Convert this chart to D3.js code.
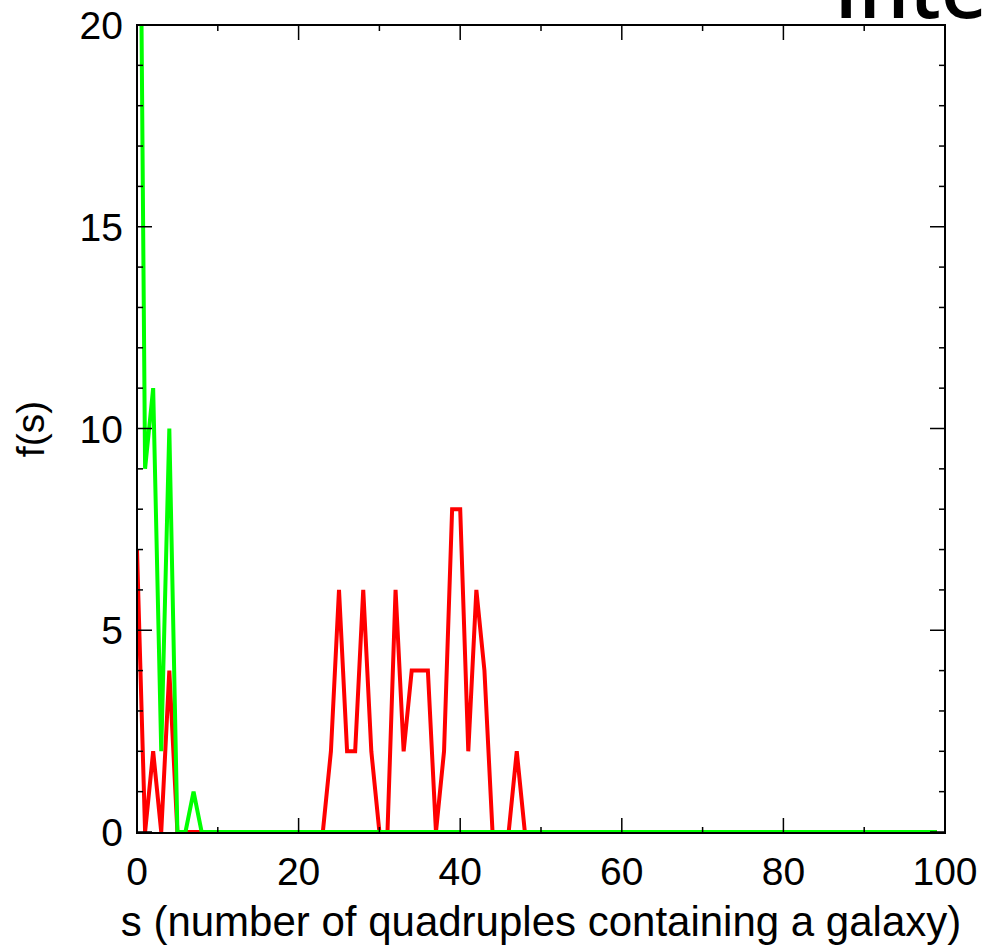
<!DOCTYPE html>
<html><head><meta charset="utf-8">
<script src="https://cdn.jsdelivr.net/npm/d3@7"></script>
<style>body{margin:0;background:#fff;} svg{display:block}</style>
</head><body><svg id="c" width="982" height="948"></svg>
<script>
// s = 0..99
const redValues = [
  7,0,2,0,4,0,0,0,0,0,
  0,0,0,0,0,0,0,0,0,0,
  0,0,0,0,2,6,2,2,6,2,
  0,0,6,2,4,4,4,0,2,8,
  8,2,6,4,0,0,0,2,0,0,
  0,0,0,0,0,0,0,0,0,0,
  0,0,0,0,0,0,0,0,0,0,
  0,0,0,0,0,0,0,0,0,0,
  0,0,0,0,0,0,0,0,0,0,
  0,0,0,0,0,0,0,0,0,0
];
const greenValues = [
  34,9,11,2,10,0,0,1,0,0,
  0,0,0,0,0,0,0,0,0,0,
  0,0,0,0,0,0,0,0,0,0,
  0,0,0,0,0,0,0,0,0,0,
  0,0,0,0,0,0,0,0,0,0,
  0,0,0,0,0,0,0,0,0,0,
  0,0,0,0,0,0,0,0,0,0,
  0,0,0,0,0,0,0,0,0,0,
  0,0,0,0,0,0,0,0,0,0,
  0,0,0,0,0,0,0,0,0,0
];
const xMajorTicks = [0,20,40,60,80,100];
const xMinorTicks = [10,30,50,70,90];
const yMajorTicks = [0,5,10,15,20];
const yMinorTicks = [1,2,3,4,6,7,8,9,11,12,13,14,16,17,18,19];
const xLabel = "s (number of quadruples containing a galaxy)";
const yLabel = "f(s)";
const titleFragment = "Inte";

const svg = d3.select("#c");
const L = 137, R = 945, T = 25, B = 833;
const x = d3.scaleLinear().domain([0,100]).range([L,R]);
const y = d3.scaleLinear().domain([0,20]).range([B-1,T]);

svg.append("defs").append("clipPath").attr("id","clip")
  .append("rect").attr("x",L).attr("y",T).attr("width",R-L).attr("height",B-T);

const line = d3.line().x((d,i)=>x(i)).y(d=>y(d));
const g = svg.append("g").attr("clip-path","url(#clip)");
g.append("path").datum(redValues).attr("d",line)
  .attr("fill","none").attr("stroke","#ff0000").attr("stroke-width",4);
g.append("path").datum(greenValues).attr("d",line)
  .attr("fill","none").attr("stroke","#00ff00").attr("stroke-width",4);

// frame
svg.append("rect").attr("x",L).attr("y",T).attr("width",R-L).attr("height",B-T)
  .attr("fill","none").attr("stroke","#000").attr("stroke-width",2);

const majLen = 15, minLen = 6;
const tk = svg.append("g").attr("stroke","#000").attr("stroke-width",1.5);
function xt(vals,len){
  vals.forEach(v=>{
    tk.append("line").attr("x1",x(v)).attr("x2",x(v)).attr("y1",B).attr("y2",B-len);
    tk.append("line").attr("x1",x(v)).attr("x2",x(v)).attr("y1",T).attr("y2",T+len);
  });
}
function yt(vals,len){
  vals.forEach(v=>{
    tk.append("line").attr("y1",y(v)).attr("y2",y(v)).attr("x1",L).attr("x2",L+len);
    tk.append("line").attr("y1",y(v)).attr("y2",y(v)).attr("x1",R).attr("x2",R-len);
  });
}
xt(xMajorTicks,majLen); xt(xMinorTicks,minLen);
yt(yMajorTicks,majLen); yt(yMinorTicks,minLen);

const font = "Liberation Sans, Arial, sans-serif";
svg.append("g").selectAll("text").data(xMajorTicks).join("text")
  .attr("x",d=>x(d)).attr("y",885).attr("text-anchor","middle")
  .attr("font-family",font).attr("font-size",39).attr("fill","#000").text(d=>d);
svg.append("g").selectAll("text").data(yMajorTicks).join("text")
  .attr("x",123).attr("y",d=>y(d)).attr("dy","0.36em").attr("text-anchor","end")
  .attr("font-family",font).attr("font-size",39).attr("fill","#000").text(d=>d);

svg.append("text").attr("x",(L+R)/2).attr("y",936).attr("text-anchor","middle")
  .attr("font-family",font).attr("font-size",42).attr("fill","#000").text(xLabel);
svg.append("text").attr("transform",`translate(44,${(T+B)/2}) rotate(-90)`)
  .attr("text-anchor","middle")
  .attr("font-family",font).attr("font-size",39).attr("fill","#000").text(yLabel);

svg.append("text").attr("x",834).attr("y",18)
  .attr("font-family","Open Sans, Noto Sans, sans-serif").attr("font-weight",600)
  .attr("font-size",80).attr("fill","#000").text(titleFragment);
</script></body></html>
